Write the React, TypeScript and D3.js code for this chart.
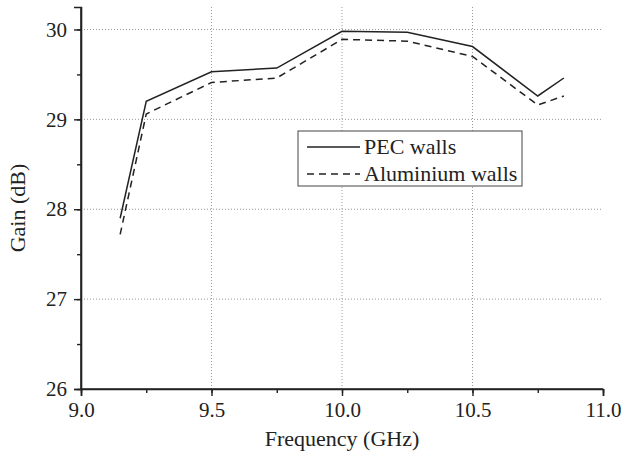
import { useEffect, useRef } from 'react';
import * as d3 from 'd3';

const freq = [9.15, 9.25, 9.5, 9.75, 10.0, 10.25, 10.5, 10.75, 10.85];
const pecGain = [27.9, 29.2, 29.53, 29.57, 29.98, 29.97, 29.81, 29.26, 29.46];
const aluGain = [27.72, 29.06, 29.41, 29.46, 29.89, 29.87, 29.7, 29.16, 29.26];
const xTicks = [9.0, 9.5, 10.0, 10.5, 11.0];
const yTicks = [26, 27, 28, 29, 30];
const legendLabels = ['PEC walls', 'Aluminium walls'];

const W = 623;
const H = 460;
const FONT = "'Liberation Serif', 'Times New Roman', Times, 'DejaVu Serif', serif";

export default function App() {
  const ref = useRef<SVGSVGElement>(null);

  useEffect(() => {
    const svg = d3.select(ref.current);
    svg.selectAll('*').remove();
    const left = 81, right = 603, top = 7, bottom = 389;
    const x = d3.scaleLinear().domain([9, 11]).range([left, right]);
    const y = d3.scaleLinear().domain([26, 30.25]).range([bottom, top]);

    // grid
    const grid = svg.append('g').attr('stroke', '#999').attr('stroke-width', 1).attr('stroke-dasharray', '1,2');
    xTicks.filter((t) => t > 9 && t < 11).forEach((t) => {
      grid.append('line').attr('x1', x(t)).attr('x2', x(t)).attr('y1', top).attr('y2', bottom);
    });
    yTicks.filter((t) => t > 26).forEach((t) => {
      grid.append('line').attr('x1', left).attr('x2', right).attr('y1', y(t)).attr('y2', y(t));
    });

    // axes
    const xMinor = d3.range(9, 11.001, 0.25);
    const yMinor = d3.range(26, 30.001, 0.5);
    const xAxis = svg.append('g').attr('transform', `translate(0,${bottom})`)
      .call(d3.axisBottom(x).tickValues(xMinor).tickSize(4).tickFormat(() => ''));
    xAxis.append('g').call(d3.axisBottom(x).tickValues(xTicks).tickSize(7).tickPadding(6).tickFormat(d3.format('.1f')));
    const yAxis = svg.append('g').attr('transform', `translate(${left},0)`)
      .call(d3.axisLeft(y).tickValues(yMinor).tickSize(4).tickFormat(() => ''));
    yAxis.append('g').call(d3.axisLeft(y).tickValues(yTicks).tickSize(7).tickPadding(7).tickFormat(d3.format('d')));
    svg.selectAll('.domain').attr('stroke', '#222').attr('stroke-width', 1.6);
    svg.selectAll('.tick line').attr('stroke', '#222').attr('stroke-width', 1.4);
    svg.selectAll('.tick text').style('font-family', FONT).attr('font-size', 21).attr('fill', '#222');
    xAxis.select('.domain').attr('d', `M${left},0H${right}`);
    yAxis.select('.domain').attr('d', `M0,${top}V${bottom}`);

    // lines
    const line = d3.line<number>().x((_d, i) => x(freq[i])).y((d) => y(d));
    svg.append('path').attr('d', line(pecGain)).attr('fill', 'none').attr('stroke', '#222').attr('stroke-width', 1.5);
    svg.append('path').attr('d', line(aluGain)).attr('fill', 'none').attr('stroke', '#222').attr('stroke-width', 1.5).attr('stroke-dasharray', '7,5');

    // legend
    const lg = svg.append('g');
    lg.append('rect').attr('x', 298).attr('y', 131).attr('width', 224).attr('height', 55)
      .attr('fill', '#fff').attr('stroke', '#444').attr('stroke-width', 1);
    legendLabels.forEach((lab, i) => {
      const ly = 147 + i * 27;
      lg.append('line').attr('x1', 307).attr('x2', 360).attr('y1', ly).attr('y2', ly)
        .attr('stroke', '#222').attr('stroke-width', 1.5).attr('stroke-dasharray', i === 1 ? '7,5' : null);
      lg.append('text').attr('x', 364).attr('y', ly + 7).text(lab)
        .style('font-family', FONT).attr('font-size', 22).attr('fill', '#222');
    });

    // axis titles
    svg.append('text').attr('x', (left + right) / 2).attr('y', 446).attr('text-anchor', 'middle')
      .style('font-family', FONT).attr('font-size', 22).attr('fill', '#222').text('Frequency (GHz)');
    svg.append('text').attr('transform', `translate(25,${(top + bottom) / 2 + 10}) rotate(-90)`)
      .attr('text-anchor', 'middle').style('font-family', FONT).attr('font-size', 22).attr('fill', '#222').text('Gain (dB)');
  }, []);

  return (
    <div style={{ position: 'absolute', left: 0, top: 0 }}>
      <svg ref={ref} width={W} height={H} viewBox={`0 0 ${W} ${H}`} style={{ display: 'block', background: '#fff' }} />
    </div>
  );
}
